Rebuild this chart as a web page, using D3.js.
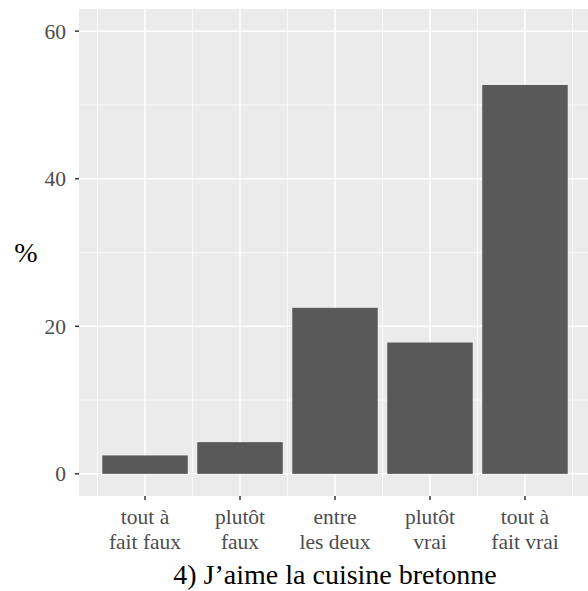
<!DOCTYPE html>
<html>
<head>
<meta charset="utf-8">
<script src="https://cdn.jsdelivr.net/npm/d3@7"></script>
<style>
  html, body { margin: 0; padding: 0; background: #fff; }
  svg { display: block; }
</style>
</head>
<body>
<script>
// Answer shares (%) for statement 4
const categories = ["tout à\nfait faux", "plutôt\nfaux", "entre\nles deux", "plutôt\nvrai", "tout à\nfait vrai"];
const values = [2.5, 4.3, 22.5, 17.8, 52.7];
const yTicks = [0, 20, 40, 60];
const yMinor = [10, 30, 50];
const title = "4) J\u2019aime la cuisine bretonne";
const yTitle = "%";

const W = 588, H = 591;
const panel = { left: 79, top: 9, right: 591, bottom: 496 };
const serif = "'Liberation Serif', serif";

const svg = d3.select("body").append("svg")
  .attr("width", W).attr("height", H);

// discrete x scale, outer padding so categories sit like ggplot's expanded axis
const x = d3.scaleBand()
  .domain(categories)
  .range([panel.left, panel.right])
  .paddingOuter(0.195)
  .paddingInner(0);
const y = d3.scaleLinear().domain([-3, 63]).range([panel.bottom, panel.top]);

const step = x.step();
const cx = d => x(d) + step / 2;

svg.append("rect")
  .attr("x", panel.left).attr("y", panel.top)
  .attr("width", panel.right - panel.left).attr("height", panel.bottom - panel.top)
  .attr("fill", "#ebebeb");

const grid = svg.append("g");
// minor grid
grid.selectAll("line.ymin").data(yMinor).join("line")
  .attr("x1", panel.left).attr("x2", panel.right)
  .attr("y1", d => y(d)).attr("y2", d => y(d))
  .attr("stroke", "#fff").attr("stroke-width", 0.75);
grid.selectAll("line.xmin").data(d3.range(categories.length + 1)).join("line")
  .attr("x1", i => cx(categories[0]) + (i - 0.5) * step)
  .attr("x2", i => cx(categories[0]) + (i - 0.5) * step)
  .attr("y1", panel.top).attr("y2", panel.bottom)
  .attr("stroke", "#fff").attr("stroke-width", 0.75);
// major grid
grid.selectAll("line.ymaj").data(yTicks).join("line")
  .attr("x1", panel.left).attr("x2", panel.right)
  .attr("y1", d => y(d)).attr("y2", d => y(d))
  .attr("stroke", "#fff").attr("stroke-width", 1.5);
grid.selectAll("line.xmaj").data(categories).join("line")
  .attr("x1", d => cx(d)).attr("x2", d => cx(d))
  .attr("y1", panel.top).attr("y2", panel.bottom)
  .attr("stroke", "#fff").attr("stroke-width", 1.5);

// bars
svg.append("g").selectAll("rect").data(values).join("rect")
  .attr("x", (d, i) => cx(categories[i]) - 0.45 * step)
  .attr("width", 0.9 * step)
  .attr("y", d => y(d))
  .attr("height", d => y(0) - y(d))
  .attr("fill", "#595959");

// y axis
const yAxis = svg.append("g");
yAxis.selectAll("line").data(yTicks).join("line")
  .attr("x1", panel.left - 4).attr("x2", panel.left)
  .attr("y1", d => y(d)).attr("y2", d => y(d))
  .attr("stroke", "#333").attr("stroke-width", 1.5);
yAxis.selectAll("text").data(yTicks).join("text")
  .attr("x", panel.left - 13).attr("y", d => y(d))
  .attr("dy", "0.35em")
  .attr("text-anchor", "end")
  .style("font-family", serif)
  .style("font-size", "21.5px")
  .attr("fill", "#4d4d4d")
  .text(d => d);

// x axis
const xAxis = svg.append("g");
xAxis.selectAll("line").data(categories).join("line")
  .attr("x1", d => cx(d)).attr("x2", d => cx(d))
  .attr("y1", panel.bottom).attr("y2", panel.bottom + 4)
  .attr("stroke", "#333").attr("stroke-width", 1.5);
const xl = xAxis.selectAll("text").data(categories).join("text")
  .attr("x", d => cx(d)).attr("y", 524)
  .attr("text-anchor", "middle")
  .style("font-family", serif)
  .style("font-size", "21.5px")
  .attr("fill", "#4d4d4d");
xl.selectAll("tspan").data(d => d.split("\n")).join("tspan")
  .attr("x", function() { return d3.select(this.parentNode).attr("x"); })
  .attr("dy", (d, i) => i === 0 ? 0 : 25)
  .text(d => d);

// titles
svg.append("text")
  .attr("x", (panel.left + panel.right) / 2).attr("y", 584)
  .attr("text-anchor", "middle")
  .style("font-family", serif)
  .style("font-size", "28px")
  .attr("fill", "#000")
  .text(title);
svg.append("text")
  .attr("x", 26).attr("y", (panel.top + panel.bottom) / 2)
  .attr("dy", "0.35em")
  .attr("text-anchor", "middle")
  .style("font-family", serif)
  .style("font-size", "28px")
  .attr("fill", "#000")
  .text(yTitle);
</script>
</body>
</html>
